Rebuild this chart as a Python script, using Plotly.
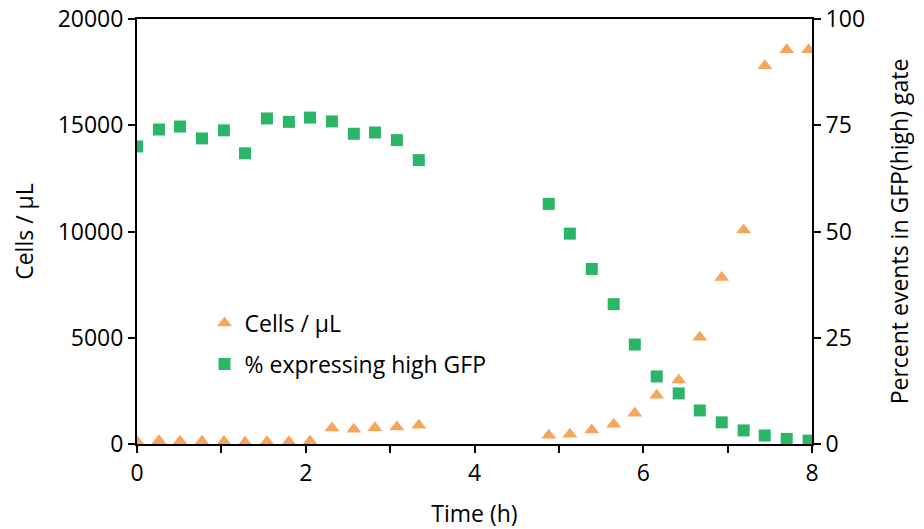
import plotly.graph_objects as go

time_h = [0, 0.26, 0.51, 0.77, 1.03, 1.28, 1.54, 1.80, 2.05, 2.31, 2.57, 2.82, 3.08, 3.34,
          4.88, 5.13, 5.39, 5.65, 5.90, 6.16, 6.42, 6.67, 6.93, 7.19, 7.44, 7.70, 7.96]
cells_per_ul = [120, 150, 130, 130, 120, 80, 110, 110, 130, 750, 700, 770, 800, 880,
                410, 460, 660, 930, 1450, 2300, 3010, 5020, 7840, 10070, 17800, 18550, 18550]
pct_high_gfp = [70.0, 74.0, 74.7, 71.9, 73.8, 68.4, 76.6, 75.8, 76.8, 75.9, 73.0, 73.3, 71.5, 66.8,
                56.5, 49.5, 41.2, 32.9, 23.4, 15.9, 11.9, 7.9, 5.1, 3.2, 2.0, 1.2, 0.8]

x_ticks = [0, 1, 2, 3, 4, 5, 6, 7, 8]
x_ticklabels = ["0", "", "2", "", "4", "", "6", "", "8"]
y_ticks = [0, 5000, 10000, 15000, 20000]
y_ticklabels = ["0", "5000", "10000", "15000", "20000"]
y2_ticks = [0, 25, 50, 75, 100]
y2_ticklabels = ["0", "25", "50", "75", "100"]

FONT = "Open Sans, Noto Sans, sans-serif"
ORANGE = "#F6A55B"
GREEN = "#2BB566"
FS = 23

fig = go.Figure()
fig.add_trace(go.Scatter(
    x=time_h, y=cells_per_ul, mode="markers", name="Cells / µL",
    marker=dict(symbol="triangle-up", size=13, color=ORANGE),
    legendgroup="a", yaxis="y"))
fig.add_trace(go.Scatter(
    x=time_h, y=pct_high_gfp, mode="markers", name="% expressing high GFP",
    marker=dict(symbol="square", size=12, color=GREEN),
    legendgroup="b", yaxis="y2"))

axis_common = dict(showgrid=False, zeroline=False, showline=True, linecolor="black",
                   linewidth=2, ticks="outside", ticklen=7, tickwidth=2, tickcolor="black",
                   automargin=False,
                   tickfont=dict(family=FONT, size=FS, color="black"))

fig.update_layout(
    width=924, height=529,
    margin=dict(l=137, r=112, t=19, b=85),
    plot_bgcolor="white", paper_bgcolor="white",
    font=dict(family=FONT, size=FS, color="black"),
    xaxis=dict(range=[0, 8], tickvals=x_ticks, ticktext=x_ticklabels, mirror=True,
               title=dict(text="Time (h)", font=dict(family=FONT, size=FS), standoff=22),
               **axis_common),
    yaxis=dict(range=[0, 20000], tickvals=y_ticks, ticktext=y_ticklabels,
               title=dict(text="Cells / µL", font=dict(family=FONT, size=FS), standoff=18),
               **axis_common),
    yaxis2=dict(range=[0, 100], tickvals=y2_ticks, ticktext=y2_ticklabels,
                overlaying="y", side="right",
                title=dict(text="Percent events in GFP(high) gate", font=dict(family=FONT, size=FS),
                           standoff=28),
                **axis_common),
    showlegend=True,
    legend=dict(x=0.1, y=0.335, xanchor="left", yanchor="top",
                bgcolor="rgba(0,0,0,0)", font=dict(family=FONT, size=FS),
                traceorder="grouped", tracegroupgap=8, itemwidth=30),
)

fig.write_html("out.html")
